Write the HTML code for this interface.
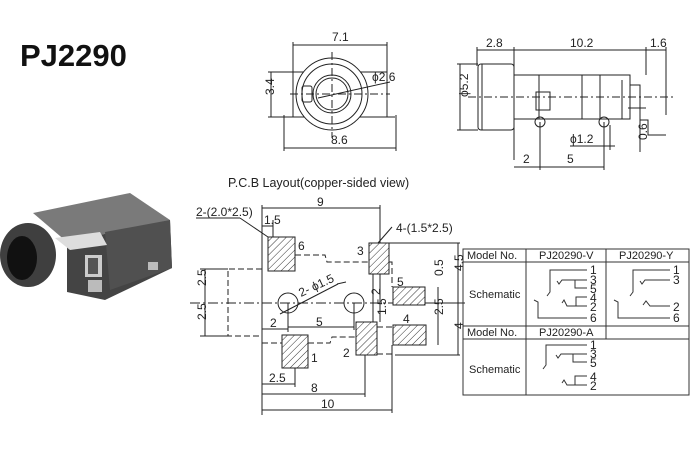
<!DOCTYPE html>
<html><head><style>
body{margin:0;background:#fff;}
svg{display:block;font-family:"Liberation Sans",sans-serif;}
</style></head><body>
<svg width="700" height="450" viewBox="0 0 700 450" xmlns="http://www.w3.org/2000/svg">
<defs>
<pattern id="h" width="5" height="5" patternUnits="userSpaceOnUse" patternTransform="rotate(45)">
<rect width="5" height="5" fill="#fff"/><line x1="0" y1="0" x2="0" y2="5" stroke="#333" stroke-width="1"/></pattern>
</defs>
<rect width="700" height="450" fill="#fff"/>
<text x="20" y="66" font-size="31" font-weight="bold" fill="#111">PJ2290</text>

<!-- photo -->
<g>
<polygon points="33,213 130,193 170,220 67,242" fill="#7a7a7a"/>
<polygon points="67,242 170,220 172,268 105,300 67,292" fill="#444"/>
<polygon points="105,232 170,220 172,268 110,290" fill="#505050"/>
<polygon points="55,238 100,232 107,245 70,250" fill="#ddd"/>
<rect x="85" y="255" width="17" height="22" fill="#ccc"/><rect x="88" y="258" width="10" height="16" fill="#555"/>
<rect x="88" y="280" width="14" height="12" fill="#bbb"/>
<rect x="148" y="262" width="10" height="8" fill="#bbb"/>
<ellipse cx="28" cy="255" rx="28" ry="32" fill="#3f3f3f"/>
<ellipse cx="22" cy="258" rx="15" ry="22" fill="#111"/>
</g>

<g stroke="#222" stroke-width="1" fill="none">
<!-- front view -->
<line x1="293" y1="45" x2="387" y2="45"/><line x1="293" y1="42" x2="293" y2="75"/><line x1="387" y1="42" x2="387" y2="75"/>
<line x1="284" y1="148" x2="396" y2="148"/><line x1="284" y1="115" x2="284" y2="151"/><line x1="396" y1="115" x2="396" y2="151"/>
<line x1="271" y1="72" x2="271" y2="117"/><line x1="268" y1="72" x2="300" y2="72"/><line x1="268" y1="117" x2="300" y2="117"/>
<rect x="293" y="72" width="94" height="45"/>
<line x1="285" y1="117" x2="395" y2="117"/>
<circle cx="332" cy="94" r="36" fill="#fff"/>
<circle cx="332" cy="94" r="30"/>
<circle cx="332" cy="94" r="19"/><circle cx="332" cy="94" r="16"/>
<rect x="302" y="86" width="10" height="16" rx="2"/>
<line x1="290" y1="94" x2="390" y2="94" stroke-dasharray="8,3,2,3"/>
<line x1="332" y1="52" x2="332" y2="138" stroke-dasharray="8,3,2,3"/>
<line x1="318" y1="98" x2="390" y2="82"/>

<!-- side view -->
<line x1="477" y1="50" x2="666" y2="50"/>
<line x1="477" y1="47" x2="477" y2="66"/><line x1="514" y1="47" x2="514" y2="160"/><line x1="646" y1="47" x2="646" y2="75"/><line x1="666" y1="47" x2="666" y2="115"/>
<rect x="478" y="64" width="36" height="66" rx="3"/>
<line x1="482" y1="64" x2="482" y2="130"/>
<rect x="514" y="75" width="116" height="44"/>
<line x1="539" y1="75" x2="539" y2="119"/><line x1="582" y1="75" x2="582" y2="119"/><line x1="600" y1="75" x2="600" y2="119"/>
<rect x="536" y="92" width="14" height="18"/>
<path d="M630,85 L640,85 L640,120 L648,120 L648,135 L666,135"/>
<line x1="622" y1="80" x2="622" y2="119"/>
<circle cx="540" cy="122" r="5"/><circle cx="604" cy="122" r="5"/>
<line x1="468" y1="97" x2="675" y2="97" stroke-dasharray="8,3,2,3"/>
<line x1="460" y1="64" x2="460" y2="130"/><line x1="457" y1="64" x2="478" y2="64"/><line x1="457" y1="130" x2="478" y2="130"/>
<line x1="514" y1="167" x2="604" y2="167"/><line x1="540" y1="122" x2="540" y2="170"/><line x1="604" y1="122" x2="604" y2="170"/>
<line x1="570" y1="146" x2="615" y2="146"/><line x1="610" y1="125" x2="610" y2="150"/>
<line x1="640" y1="108" x2="640" y2="152"/><line x1="628" y1="108" x2="646" y2="108"/>

<!-- PCB -->
<line x1="262" y1="205" x2="262" y2="415"/>
<line x1="262" y1="208" x2="380" y2="208"/><line x1="380" y1="205" x2="380" y2="243"/>
<line x1="262" y1="410" x2="392" y2="410"/><line x1="392" y1="345" x2="392" y2="413"/>
<line x1="262" y1="394" x2="365" y2="394"/><line x1="365" y1="355" x2="365" y2="397"/>
<line x1="262" y1="384" x2="295" y2="384"/><line x1="295" y1="368" x2="295" y2="387"/>
<line x1="262" y1="226" x2="273" y2="226"/><line x1="273" y1="220" x2="273" y2="237"/>
<line x1="262" y1="329" x2="288" y2="329"/><line x1="288" y1="303" x2="288" y2="332"/>
<line x1="288" y1="327" x2="354" y2="327"/><line x1="354" y1="303" x2="354" y2="330"/>
<line x1="190" y1="303" x2="465" y2="303" stroke-dasharray="10,3,2,3"/>
<line x1="205" y1="269" x2="205" y2="336"/><line x1="200" y1="269" x2="228" y2="269"/><line x1="200" y1="336" x2="228" y2="336"/>
<path d="M262,269 L228,269 L228,336 L262,336" stroke-dasharray="6,3"/>
<path d="M295,255 L325,255 L327,262 L369,262" stroke-dasharray="6,3"/>
<path d="M389,262 L392,262 L392,287" stroke-dasharray="6,3"/>
<path d="M262,343 L282,343 M308,343 L330,343 L332,337 L356,337" stroke-dasharray="6,3"/>
<path d="M377,327 L393,327 M377,354 L392,354" stroke-dasharray="6,3"/>
<line x1="381" y1="243" x2="460" y2="243"/><line x1="395" y1="355" x2="460" y2="355"/>
<line x1="458" y1="243" x2="458" y2="355"/>
<line x1="438" y1="287" x2="438" y2="345"/>
<line x1="380" y1="274" x2="380" y2="322"/>
<line x1="373" y1="274" x2="373" y2="322"/>
<line x1="425" y1="303" x2="460" y2="303"/>
<line x1="280" y1="314" x2="338" y2="284"/>
<line x1="337" y1="284" x2="346" y2="282"/>
<line x1="240" y1="218" x2="268" y2="237"/><line x1="196" y1="218" x2="240" y2="218"/>
<line x1="378" y1="243" x2="392" y2="227"/>
<circle cx="288" cy="303" r="10"/><circle cx="354" cy="303" r="10"/>
</g>
<g stroke="#222" stroke-width="1" fill="url(#h)">
<rect x="268" y="237" width="27" height="34"/>
<rect x="369" y="243" width="20" height="31"/>
<rect x="393" y="287" width="32" height="18"/>
<rect x="393" y="325" width="33" height="20"/>
<rect x="282" y="335" width="26" height="33"/>
<rect x="356" y="322" width="21" height="33"/>
</g>

<g font-size="12" fill="#222">
<text x="332" y="41">7.1</text><text x="331" y="144">8.6</text>
<text x="266" y="103" transform="rotate(-90 266 95)">3.4</text>
<text x="372" y="81">ϕ2.6</text>
<text x="486" y="47">2.8</text><text x="570" y="47">10.2</text><text x="650" y="47">1.6</text>
<text x="458" y="107" transform="rotate(-90 458 97)">ϕ5.2</text>
<text x="523" y="163">2</text><text x="567" y="163">5</text>
<text x="570" y="143">ϕ1.2</text>
<text x="641" y="146" transform="rotate(-90 641 140)">0.6</text>
<text x="228" y="187" font-size="12.5">P.C.B Layout(copper-sided view)</text>
<text x="317" y="206">9</text>
<text x="196" y="216">2-(2.0*2.5)</text>
<text x="264" y="224">1.5</text>
<text x="396" y="232">4-(1.5*2.5)</text>
<text x="298" y="250">6</text><text x="357" y="255">3</text>
<text x="397" y="286">5</text><text x="403" y="323">4</text>
<text x="311" y="362">1</text><text x="343" y="357">2</text>
<text x="301" y="297" transform="rotate(-25 301 297)">2- ϕ1.5</text>
<text x="270" y="327">2</text><text x="316" y="326">5</text>
<text x="269" y="382">2.5</text><text x="311" y="392">8</text><text x="321" y="408">10</text>
<text x="203" y="289" transform="rotate(-90 203 286)">2.5</text>
<text x="203" y="323" transform="rotate(-90 203 320)">2.5</text>
<text x="377" y="298" transform="rotate(-90 377 295)">2</text>
<text x="387" y="320" transform="rotate(-90 384 318)">1.5</text>
<text x="440" y="279" transform="rotate(-90 440 276)">0.5</text>
<text x="440" y="318" transform="rotate(-90 440 315)">2.5</text>
<text x="460" y="274" transform="rotate(-90 460 271)">4.5</text>
<text x="460" y="332" transform="rotate(-90 460 329)">4</text>
</g>

<!-- table -->
<g stroke="#333" stroke-width="1" fill="none">
<rect x="463" y="249" width="226" height="146"/>
<line x1="463" y1="262" x2="689" y2="262"/>
<line x1="463" y1="326" x2="689" y2="326"/>
<line x1="463" y1="339" x2="689" y2="339"/>
<line x1="526" y1="249" x2="526" y2="395"/>
<line x1="606" y1="249" x2="606" y2="339"/>
<path d="M587,270 L550,270 L550,292 L547,296"/>
<path d="M557,281 L559,284 L562,280 L587,280 M575,280 L575,288 L587,288"/>
<path d="M534,300 L538,302 L538,318 L587,318"/>
<path d="M562,303 L564,300 L567,306 L587,306 M576,306 L576,297 L587,297"/>
<path d="M670,270 L633,270 L633,292 L630,296"/>
<path d="M640,281 L642,284 L645,280 L670,280"/>
<path d="M614,300 L618,302 L618,318 L670,318"/>
<path d="M643,305 L646,301 L650,306 L670,306"/>
<path d="M587,345 L546,345 L546,365 L543,369"/>
<path d="M556,355 L558,358 L561,354 L587,354 M573,354 L573,362 L587,362"/>
<path d="M562,383 L564,380 L567,385 L587,385 M575,385 L575,376 L587,376"/>
</g>
<g font-size="11" fill="#222">
<text x="467" y="259">Model No.</text><text x="539" y="259">PJ20290-V</text><text x="619" y="259">PJ20290-Y</text>
<text x="469" y="298">Schematic</text>
<text x="467" y="336">Model No.</text><text x="539" y="336">PJ20290-A</text>
<text x="469" y="373">Schematic</text>
</g>
<g font-size="12" fill="#222">
<text x="590" y="274">1</text><text x="590" y="284">3</text><text x="590" y="293">5</text><text x="590" y="302">4</text><text x="590" y="311">2</text><text x="590" y="322">6</text>
<text x="673" y="274">1</text><text x="673" y="284">3</text><text x="673" y="311">2</text><text x="673" y="322">6</text>
<text x="590" y="349">1</text><text x="590" y="358">3</text><text x="590" y="367">5</text><text x="590" y="381">4</text><text x="590" y="390">2</text>
</g>
</svg>
</body></html>
